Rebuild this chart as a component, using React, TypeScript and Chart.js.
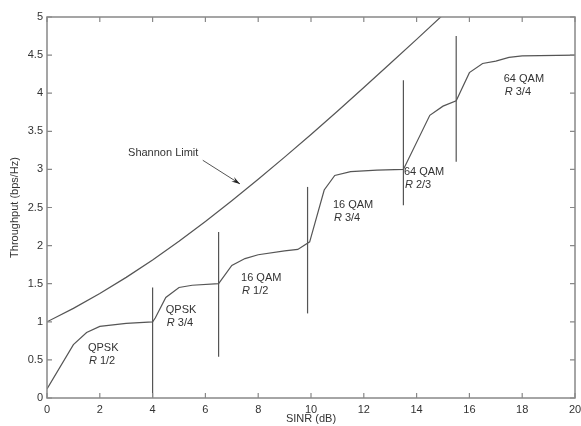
import { useEffect, useRef } from "react";
import { Chart, registerables } from "chart.js";

Chart.register(...registerables);

// Shannon limit curve (SINR dB -> bps/Hz)
const shannonSinr = [0, 1, 2, 3, 4, 5, 6, 7, 8, 9, 10, 11, 12, 13, 14, 15];
const shannonLimit = [1.0, 1.176, 1.37, 1.583, 1.812, 2.057, 2.317, 2.588, 2.87, 3.161, 3.459, 3.764, 4.075, 4.389, 4.707, 5.028];

// Adaptive modulation throughput curve
const throughputSinr = [0, 1, 1.5, 2, 3, 4, 4.1, 4.5, 5, 5.5, 6.5, 7, 7.5, 8, 9, 9.5, 9.95, 10.5, 10.9, 11.5, 12.5, 13.5, 14.5, 15, 15.5, 16, 16.5, 17, 17.5, 18, 20];
const throughputValues = [0.12, 0.7, 0.86, 0.94, 0.98, 1.0, 1.05, 1.32, 1.45, 1.48, 1.5, 1.74, 1.83, 1.88, 1.93, 1.95, 2.05, 2.73, 2.92, 2.97, 2.99, 3.0, 3.71, 3.83, 3.9, 4.27, 4.39, 4.42, 4.47, 4.49, 4.5];

// Switching thresholds (vertical lines)
const switchSinr = [4, 6.5, 9.87, 13.5, 15.5];
const switchLow = [0, 0.54, 1.11, 2.53, 3.1];
const switchHigh = [1.45, 2.18, 2.77, 4.17, 4.75];

// Modulation/coding labels
const modLabels = ["QPSK", "QPSK", "16 QAM", "16 QAM", "64 QAM", "64 QAM"];
const rateLabels = ["1/2", "3/4", "1/2", "3/4", "2/3", "3/4"];
const labelSinr = [1.55, 4.5, 7.35, 10.83, 13.52, 17.3];
const labelThroughput = [0.66, 1.15, 1.57, 2.53, 2.97, 4.19];

const xTicks = [0, 2, 4, 6, 8, 10, 12, 14, 16, 18, 20];
const yTicks = [0, 0.5, 1, 1.5, 2, 2.5, 3, 3.5, 4, 4.5, 5];

const LINE = "#555";
const TEXT = "#333";
const FRAME = "#888";
const FONT = "Arial, 'Liberation Sans', sans-serif";

const overlay = {
  id: "overlay",
  afterDraw(chart: any) {
    const ctx = chart.ctx;
    const xs = chart.scales.x;
    const ys = chart.scales.y;
    const L = xs.getPixelForValue(0);
    const R = xs.getPixelForValue(20);
    const T = ys.getPixelForValue(5);
    const B = ys.getPixelForValue(0);
    ctx.save();
    ctx.strokeStyle = FRAME;
    ctx.lineWidth = 1.5;
    // frame
    ctx.strokeRect(L, T, R - L, B - T);
    // inward ticks
    const tl = 5;
    ctx.lineWidth = 1.2;
    ctx.beginPath();
    for (const v of xTicks) {
      const px = xs.getPixelForValue(v);
      ctx.moveTo(px, B);
      ctx.lineTo(px, B - tl);
      ctx.moveTo(px, T);
      ctx.lineTo(px, T + tl);
    }
    for (const v of yTicks) {
      const py = ys.getPixelForValue(v);
      ctx.moveTo(L, py);
      ctx.lineTo(L + tl, py);
      ctx.moveTo(R, py);
      ctx.lineTo(R - tl, py);
    }
    ctx.stroke();

    // labels
    ctx.fillStyle = TEXT;
    ctx.textBaseline = "middle";
    ctx.textAlign = "left";
    modLabels.forEach((m, i) => {
      const px = xs.getPixelForValue(labelSinr[i]);
      const py = ys.getPixelForValue(labelThroughput[i]);
      ctx.font = `11px ${FONT}`;
      ctx.fillText(m, px, py);
      ctx.font = `italic 11px ${FONT}`;
      ctx.fillText("R", px + 1, py + 13);
      const w = ctx.measureText("R").width;
      ctx.font = `11px ${FONT}`;
      ctx.fillText(" " + rateLabels[i], px + 1 + w, py + 13);
    });

    // Shannon limit label and arrow
    ctx.font = `11px ${FONT}`;
    ctx.fillText("Shannon Limit", xs.getPixelForValue(3.07), ys.getPixelForValue(3.22));
    const x1 = xs.getPixelForValue(5.9);
    const y1 = ys.getPixelForValue(3.12);
    const x2 = xs.getPixelForValue(7.31);
    const y2 = ys.getPixelForValue(2.81);
    ctx.strokeStyle = LINE;
    ctx.lineWidth = 1;
    ctx.beginPath();
    ctx.moveTo(x1, y1);
    ctx.lineTo(x2, y2);
    ctx.stroke();
    const ang = Math.atan2(y2 - y1, x2 - x1);
    const hl = 9;
    ctx.fillStyle = "#222";
    ctx.beginPath();
    ctx.moveTo(x2, y2);
    ctx.lineTo(x2 - hl * Math.cos(ang - 0.3), y2 - hl * Math.sin(ang - 0.3));
    ctx.lineTo(x2 - hl * 0.6 * Math.cos(ang), y2 - hl * 0.6 * Math.sin(ang));
    ctx.lineTo(x2 - hl * Math.cos(ang + 0.3), y2 - hl * Math.sin(ang + 0.3));
    ctx.closePath();
    ctx.fill();
    ctx.restore();
  },
};

export default function App() {
  const ref = useRef<HTMLCanvasElement>(null);
  useEffect(() => {
    if (!ref.current) return;
    const lineDs = (label: string, data: any[]) => ({
      label,
      data,
      showLine: true,
      borderColor: LINE,
      borderWidth: 1.2,
      pointRadius: 0,
      pointHoverRadius: 0,
      fill: false,
      tension: 0,
    });
    const datasets: any[] = [
      lineDs("Shannon Limit", shannonSinr.map((x, i) => ({ x, y: shannonLimit[i] }))),
      lineDs("Throughput", throughputSinr.map((x, i) => ({ x, y: throughputValues[i] }))),
      ...switchSinr.map((x, i) =>
        lineDs("switch " + i, [
          { x, y: switchLow[i] },
          { x, y: switchHigh[i] },
        ])
      ),
    ];
    const chart = new Chart(ref.current, {
      type: "scatter",
      data: { datasets },
      options: {
        animation: false,
        responsive: false,
        devicePixelRatio: 1,
        layout: { padding: { top: 17, right: 6, left: 0, bottom: 0 } },
        plugins: { legend: { display: false }, tooltip: { enabled: false } },
        scales: {
          x: {
            type: "linear",
            min: 0,
            max: 20,
            grid: { display: false, drawTicks: false },
            border: { display: false },
            ticks: {
              stepSize: 2,
              autoSkip: false,
              maxRotation: 0,
              padding: 5,
              color: TEXT,
              font: { size: 11, family: FONT },
              callback: (v: any) => String(v),
            },
            title: {
              display: true,
              text: "SINR (dB)",
              color: TEXT,
              font: { size: 11, family: FONT },
              padding: { top: 0, bottom: 0 },
            },
            afterFit: (s: any) => {
              s.height = 28;
              s.paddingLeft = 0;
              s.paddingRight = 0;
            },
          },
          y: {
            type: "linear",
            min: 0,
            max: 5,
            grid: { display: false, drawTicks: false },
            border: { display: false },
            ticks: {
              stepSize: 0.5,
              autoSkip: false,
              padding: 4,
              color: TEXT,
              font: { size: 11, family: FONT },
              callback: (v: any) => String(v),
            },
            title: {
              display: true,
              text: "Throughput (bps/Hz)",
              color: TEXT,
              font: { size: 11, family: FONT },
              padding: { top: 8, bottom: 0 },
            },
            afterFit: (s: any) => {
              s.width = 47;
              s.paddingTop = 0;
              s.paddingBottom = 0;
            },
          },
        },
      },
      plugins: [overlay],
    });
    return () => chart.destroy();
  }, []);
  return (
    <div style={{ position: "fixed", left: 0, top: 0, width: 581, height: 426, background: "#fff" }}>
      <canvas ref={ref} width={581} height={426} style={{ width: 581, height: 426, display: "block" }} />
    </div>
  );
}
